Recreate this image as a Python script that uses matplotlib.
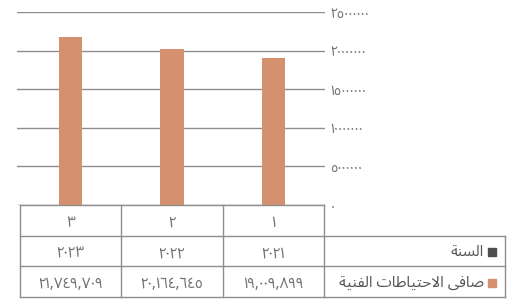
"""
Net technical reserves by year - bar chart with an Excel style data table (RTL).
"""
import matplotlib
matplotlib.use('Agg')
import matplotlib.pyplot as plt
import matplotlib.transforms as mtransforms
from matplotlib.patches import Rectangle
from matplotlib.lines import Line2D

# Data
CATEGORIES = ['١', '٢', '٣']
YEARS = ['٢٠٢١', '٢٠٢٢', '٢٠٢٣']
VALUES = [19009899, 20164645, 21749709]
Y_TICKS = [0, 5000000, 10000000, 15000000, 20000000, 25000000]
ROW_LABELS = ['السنة', 'صافى الاحتياطات الفنية']

BAR_COLOR = '#D5916F'
YEAR_COLOR = '#4D4D4D'
GRID_COLOR = '#8E8E8E'
TEXT_COLOR = '#747474'

# Arabic presentation forms: (isolated, final, initial, medial)
FORMS = {
    'ا': ('\uFE8D', '\uFE8E', None, None),
    'ة': ('\uFE93', '\uFE94', None, None),
    'ى': ('\uFEEF', '\uFEF0', None, None),
    'ل': ('\uFEDD', '\uFEDE', '\uFEDF', '\uFEE0'),
    'س': ('\uFEB1', '\uFEB2', '\uFEB3', '\uFEB4'),
    'ن': ('\uFEE5', '\uFEE6', '\uFEE7', '\uFEE8'),
    'ص': ('\uFEB9', '\uFEBA', '\uFEBB', '\uFEBC'),
    'ف': ('\uFED1', '\uFED2', '\uFED3', '\uFED4'),
    'ح': ('\uFEA1', '\uFEA2', '\uFEA3', '\uFEA4'),
    'ت': ('\uFE95', '\uFE96', '\uFE97', '\uFE98'),
    'ي': ('\uFEF1', '\uFEF2', '\uFEF3', '\uFEF4'),
    'ط': ('\uFEC1', '\uFEC2', '\uFEC3', '\uFEC4'),
}


def dual(c):
    return c in FORMS and FORMS[c][2] is not None


def shape(text):
    """Join arabic letters by hand and reverse for left to right drawing."""
    out = []
    i = 0
    while i < len(text):
        c = text[i]
        if c not in FORMS:
            out.append(c)
            i += 1
            continue
        prev = text[i - 1] if i > 0 else ''
        nxt = text[i + 1] if i + 1 < len(text) else ''
        joins_prev = dual(prev)
        if c == 'ل' and nxt == 'ا':
            out.append('\uFEFC' if joins_prev else '\uFEFB')
            i += 2
            continue
        joins_next = dual(c) and nxt in FORMS
        iso, fin, ini, med = FORMS[c]
        if joins_prev and joins_next:
            out.append(med)
        elif joins_prev:
            out.append(fin)
        elif joins_next:
            out.append(ini)
        else:
            out.append(iso)
        i += 1
    return ''.join(out)[::-1]


def arabic_digits(s):
    return s.translate(str.maketrans('0123456789', '٠١٢٣٤٥٦٧٨٩'))


plt.rcParams['font.family'] = ['Noto Sans Arabic UI', 'DejaVu Sans']

fig = plt.figure(figsize=(5.07, 3.0), dpi=100)
W, H = 507, 300
ax = fig.add_axes([17 / W, 1 - 205 / H, (325 - 17) / W, (205 - 12) / H])

x = list(range(len(VALUES)))
ax.bar(x, VALUES, width=0.23, color=BAR_COLOR, zorder=3)

ax.set_xlim(2.53, -0.51)
ax.set_ylim(0, 25000000)
ax.set_yticks(Y_TICKS)
ax.set_yticklabels([arabic_digits(str(t)) for t in Y_TICKS])
ax.yaxis.tick_right()
ax.tick_params(axis='y', length=0, pad=4, labelsize=10, labelcolor=TEXT_COLOR)
ax.set_xticks([])
ax.grid(axis='y', color=GRID_COLOR, linewidth=1.0, zorder=0)
for s in ['top', 'left', 'right', 'bottom']:
    ax.spines[s].set_visible(False)

# Data table under the plot
trans = mtransforms.blended_transform_factory(ax.transData, fig.transFigure)
rows_px = [205, 236, 266, 297]
rows = [1 - r / H for r in rows_px]
left_edge = 2.5
right_edge = -0.5
header_edge = -0.5 - (505 - 324) / 101.3

lw = 1.0
# horizontal lines
fig.add_artist(Line2D([left_edge, right_edge], [rows[0], rows[0]], transform=trans,
                      color=GRID_COLOR, lw=lw))
for r in rows[1:]:
    fig.add_artist(Line2D([left_edge, header_edge], [r, r], transform=trans,
                          color=GRID_COLOR, lw=lw))
# vertical lines
for b in [i + 0.5 for i in x] + [-0.5]:
    fig.add_artist(Line2D([b, b], [rows[0], rows[3]], transform=trans,
                          color=GRID_COLOR, lw=lw))
fig.add_artist(Line2D([header_edge, header_edge], [rows[1], rows[3]], transform=trans,
                      color=GRID_COLOR, lw=lw))

# cell texts
for i in x:
    cells = [CATEGORIES[i], YEARS[i], arabic_digits(f'{VALUES[i]:,}')]
    for k, txt in enumerate(cells):
        yc = (rows[k] + rows[k + 1]) / 2 - 2 / H
        fig.text(i, yc, txt, transform=trans, ha='center', va='center',
                 fontsize=11, color=TEXT_COLOR)

# row headers with colour keys
for k, (label, col) in enumerate(zip(ROW_LABELS, [YEAR_COLOR, BAR_COLOR])):
    yc = (rows[k + 1] + rows[k + 2]) / 2
    fig.text(484 / W, yc - 1 / H, shape(label), ha='right', va='center',
             fontsize=11, color='#555555')
    fig.add_artist(Rectangle((488 / W, yc - 5 / H), 8 / W, 8 / H,
                             transform=fig.transFigure, color=col))

fig.savefig('out.png', dpi=100)
